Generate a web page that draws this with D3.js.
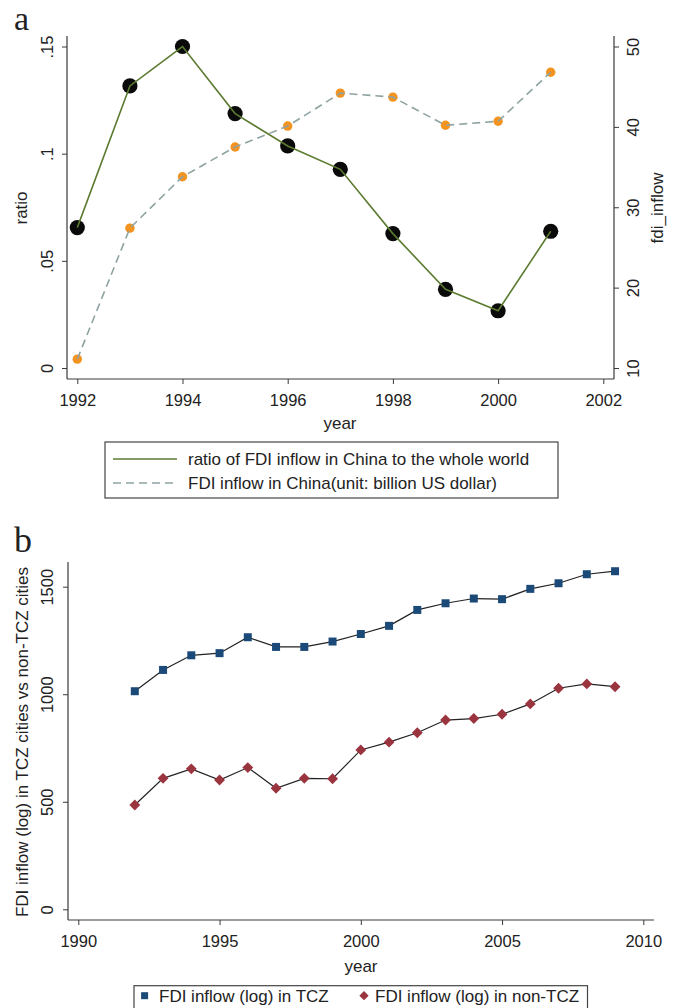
<!DOCTYPE html>
<html>
<head>
<meta charset="utf-8">
<script src="https://cdn.jsdelivr.net/npm/d3@7"></script>
<style>
  body { margin: 0; background: #fff; }
  text { font-family: "Liberation Sans", Arial, sans-serif; fill: #222; }
  .panel { font-family: "Liberation Serif", "Times New Roman", serif; }
</style>
</head>
<body>
<div id="root"></div>
<script>
// panel a data
var yearsA = [1992, 1993, 1994, 1995, 1996, 1997, 1998, 1999, 2000, 2001];
var ratio = [0.0655, 0.1316, 0.150, 0.1187, 0.1036, 0.0927, 0.0627, 0.0367, 0.0267, 0.0638];
var fdiInflow = [11.1, 27.4, 33.8, 37.5, 40.1, 44.2, 43.7, 40.2, 40.7, 46.8];
var xTicksA = [1992, 1994, 1996, 1998, 2000, 2002];
var ratioTicks = [0, 0.05, 0.1, 0.15];
var ratioTickLabels = ["0", ".05", ".1", ".15"];
var fdiTicks = [10, 20, 30, 40, 50];
var legendA = ["ratio of FDI inflow in China to the whole world", "FDI inflow in China(unit: billion US dollar)"];

// panel b data
var yearsB = [1992, 1993, 1994, 1995, 1996, 1997, 1998, 1999, 2000, 2001, 2002, 2003, 2004, 2005, 2006, 2007, 2008, 2009];
var tcz = [1014, 1113, 1181, 1191, 1265, 1220, 1220, 1245, 1280, 1318, 1392, 1423, 1445, 1442, 1490, 1516, 1558, 1572];
var nonTcz = [485, 609, 653, 601, 659, 563, 609, 607, 741, 777, 821, 880, 887, 907, 955, 1028, 1048, 1035];
var xTicksB = [1990, 1995, 2000, 2005, 2010];
var yTicksB = [0, 500, 1000, 1500];
var legendB = ["FDI inflow (log) in TCZ", "FDI inflow (log) in non-TCZ"];

var W = 676, H = 1008;
var axisColor = "#3a3a3a";
var tickFont = "16.5px", labelFont = "17px";

var svg = d3.select("#root").append("svg")
  .attr("width", W).attr("height", H);

function rotLabels(g, dx) {
  g.selectAll(".tick text")
    .attr("x", 0).attr("y", 0).attr("dy", "0.35em")
    .attr("text-anchor", "middle")
    .attr("transform", "translate(" + dx + ",0) rotate(-90)");
}
function styleAxis(g) {
  g.select(".domain").remove();
  g.selectAll(".tick line").attr("stroke", axisColor);
  g.selectAll(".tick text").style("font-size", tickFont).attr("fill", "#222");
  g.attr("font-family", null);
}

// ---------------- panel a ----------------
var aL = 67, aR = 614, aTop = 36, aBot = 379;
var xA = d3.scaleLinear().domain([1992, 2002]).range([77.3, 603.3]);
var yRatio = d3.scaleLinear().domain([0, 0.15]).range([368, 46.5]);
var yFdi = d3.scaleLinear().domain([10, 50]).range([368, 46.5]);

svg.append("text").attr("class", "panel").attr("x", 14).attr("y", 30)
  .style("font-size", "34px").text("a");

var gA = svg.append("g");

var lineRatio = d3.line().x(function(d, i) { return xA(yearsA[i]); }).y(function(d) { return yRatio(d); });
var lineFdi = d3.line().x(function(d, i) { return xA(yearsA[i]); }).y(function(d) { return yFdi(d); });

gA.selectAll("circle.fdi").data(fdiInflow).enter().append("circle")
  .attr("class", "fdi")
  .attr("cx", function(d, i) { return xA(yearsA[i]); })
  .attr("cy", function(d) { return yFdi(d); })
  .attr("r", 4.7).attr("fill", "#f4931f");

gA.append("path").datum(fdiInflow).attr("d", lineFdi)
  .attr("fill", "none").attr("stroke", "#8ea3a2").attr("stroke-width", 1.6)
  .attr("stroke-dasharray", "8,5");

gA.selectAll("circle.ratio").data(ratio).enter().append("circle")
  .attr("class", "ratio")
  .attr("cx", function(d, i) { return xA(yearsA[i]); })
  .attr("cy", function(d) { return yRatio(d); })
  .attr("r", 7.6).attr("fill", "#0a0a0a");

gA.append("path").datum(ratio).attr("d", lineRatio)
  .attr("fill", "none").attr("stroke", "#5c7b30").attr("stroke-width", 1.6);

// axes a
svg.append("line").attr("x1", aL).attr("x2", aL).attr("y1", aTop).attr("y2", aBot).attr("stroke", axisColor).attr("stroke-width", 1.2);
svg.append("line").attr("x1", aR).attr("x2", aR).attr("y1", aTop).attr("y2", aBot).attr("stroke", axisColor).attr("stroke-width", 1.2);
svg.append("line").attr("x1", aL).attr("x2", aR).attr("y1", aBot).attr("y2", aBot).attr("stroke", axisColor).attr("stroke-width", 1.2);

var axLA = svg.append("g").attr("transform", "translate(" + aL + ",0)")
  .call(d3.axisLeft(yRatio).tickValues(ratioTicks).tickSize(5)
    .tickFormat(function(d, i) { return ratioTickLabels[i]; }));
styleAxis(axLA); rotLabels(axLA, -20);

var axRA = svg.append("g").attr("transform", "translate(" + aR + ",0)")
  .call(d3.axisRight(yFdi).tickValues(fdiTicks).tickSize(5).tickFormat(d3.format("d")));
styleAxis(axRA); rotLabels(axRA, 19);

var axBA = svg.append("g").attr("transform", "translate(0," + aBot + ")")
  .call(d3.axisBottom(xA).tickValues(xTicksA).tickSize(5).tickFormat(d3.format("d")));
styleAxis(axBA);
axBA.selectAll(".tick text").attr("y", 21).attr("dy", "0.35em");

svg.append("text").attr("transform", "translate(27,208) rotate(-90)")
  .attr("text-anchor", "middle").style("font-size", labelFont).text("ratio");
svg.append("text").attr("transform", "translate(663,208) rotate(-90)")
  .attr("text-anchor", "middle").style("font-size", labelFont).text("fdi_inflow");
svg.append("text").attr("x", 340).attr("y", 423).attr("dy", "0.35em")
  .attr("text-anchor", "middle").style("font-size", labelFont).text("year");

// legend a
svg.append("rect").attr("x", 105).attr("y", 442).attr("width", 453).attr("height", 56)
  .attr("fill", "none").attr("stroke", "#444").attr("stroke-width", 1.2);
var legA = svg.append("g");
legA.append("line").attr("x1", 113).attr("x2", 177).attr("y1", 459).attr("y2", 459)
  .attr("stroke", "#5c7b30").attr("stroke-width", 1.6);
legA.append("line").attr("x1", 113).attr("x2", 177).attr("y1", 483).attr("y2", 483)
  .attr("stroke", "#8ea3a2").attr("stroke-width", 1.6).attr("stroke-dasharray", "8,5");
legA.selectAll("text").data(legendA).enter().append("text")
  .attr("x", 188).attr("y", function(d, i) { return 459 + i * 24; }).attr("dy", "0.35em")
  .style("font-size", labelFont).text(function(d) { return d; });

// ---------------- panel b ----------------
var bL = 68, bR = 654, bTop = 562, bBot = 920;
var xB = d3.scaleLinear().domain([1990, 2010]).range([78.3, 643.3]);
var yB = d3.scaleLinear().domain([0, 1500]).range([909.3, 586.7]);

svg.append("text").attr("class", "panel").attr("x", 14).attr("y", 551.5)
  .style("font-size", "36px").text("b");

var gB = svg.append("g");
var lineB = function(vals) {
  return d3.line().x(function(d, i) { return xB(yearsB[i]); }).y(function(d) { return yB(d); })(vals);
};
gB.append("path").attr("d", lineB(tcz)).attr("fill", "none").attr("stroke", "#222").attr("stroke-width", 1.2);
gB.append("path").attr("d", lineB(nonTcz)).attr("fill", "none").attr("stroke", "#222").attr("stroke-width", 1.2);

var sq = 8;
gB.selectAll("rect.tcz").data(tcz).enter().append("rect")
  .attr("class", "tcz")
  .attr("x", function(d, i) { return xB(yearsB[i]) - sq / 2; })
  .attr("y", function(d) { return yB(d) - sq / 2; })
  .attr("width", sq).attr("height", sq).attr("fill", "#1b4a79");

var diamond = d3.symbol().type(d3.symbolDiamond2).size(75);
gB.selectAll("path.non").data(nonTcz).enter().append("path")
  .attr("class", "non")
  .attr("d", diamond)
  .attr("transform", function(d, i) { return "translate(" + xB(yearsB[i]) + "," + yB(d) + ")"; })
  .attr("fill", "#9a343f");

svg.append("line").attr("x1", bL).attr("x2", bL).attr("y1", bTop).attr("y2", bBot).attr("stroke", axisColor).attr("stroke-width", 1.2);
svg.append("line").attr("x1", bL).attr("x2", bR).attr("y1", bBot).attr("y2", bBot).attr("stroke", axisColor).attr("stroke-width", 1.2);

var axLB = svg.append("g").attr("transform", "translate(" + bL + ",0)")
  .call(d3.axisLeft(yB).tickValues(yTicksB).tickSize(5).tickFormat(d3.format("d")));
styleAxis(axLB); rotLabels(axLB, -21);

var axBB = svg.append("g").attr("transform", "translate(0," + bBot + ")")
  .call(d3.axisBottom(xB).tickValues(xTicksB).tickSize(5).tickFormat(d3.format("d")));
styleAxis(axBB);
axBB.selectAll(".tick text").attr("y", 21).attr("dy", "0.35em");

svg.append("text").attr("transform", "translate(28,742) rotate(-90)")
  .attr("text-anchor", "middle").style("font-size", labelFont)
  .text("FDI inflow (log) in TCZ cities vs non-TCZ cities");
svg.append("text").attr("x", 361).attr("y", 966).attr("dy", "0.35em")
  .attr("text-anchor", "middle").style("font-size", labelFont).text("year");

// legend b
svg.append("rect").attr("x", 134).attr("y", 985.7).attr("width", 453.5).attr("height", 40)
  .attr("fill", "none").attr("stroke", "#444").attr("stroke-width", 1.2);
svg.append("rect").attr("x", 144.6 - 3.5).attr("y", 995.7 - 3.5).attr("width", 7).attr("height", 7)
  .attr("fill", "#1b4a79");
svg.append("path").attr("d", d3.symbol().type(d3.symbolDiamond2).size(55))
  .attr("transform", "translate(364,995.7)").attr("fill", "#9a343f");
svg.append("text").attr("x", 159).attr("y", 995.7).attr("dy", "0.35em")
  .style("font-size", labelFont).text(legendB[0]);
svg.append("text").attr("x", 375).attr("y", 995.7).attr("dy", "0.35em")
  .style("font-size", labelFont).text(legendB[1]);
</script>
</body>
</html>
